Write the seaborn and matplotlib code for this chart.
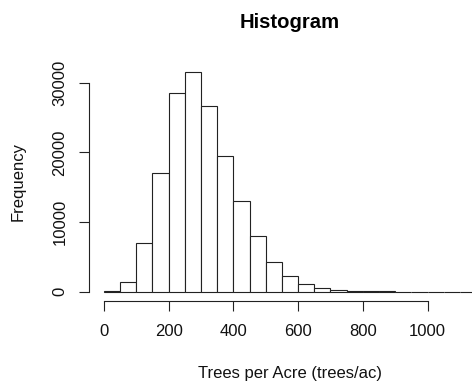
import numpy as np
import pandas as pd
import matplotlib
matplotlib.use("Agg")
import matplotlib.pyplot as plt
import seaborn as sns

# Bin edges (trees/ac) and counts per bin
bin_edges = list(range(0, 1200, 50))
counts = [100, 1380, 6970, 17020, 28490, 31560, 26690, 19450, 13000, 7980,
          4300, 2200, 1090, 520, 230, 100, 60, 40, 25, 15, 10, 5, 3]
x_ticks = [0, 200, 400, 600, 800, 1000]
y_ticks = [0, 10000, 20000, 30000]

mids = [(bin_edges[i] + bin_edges[i + 1]) / 2 for i in range(len(counts))]
df = pd.DataFrame({"tpa": mids, "n": counts})

sns.set_style("white")
plt.rcParams["font.family"] = ["Liberation Sans", "DejaVu Sans"]

fig = plt.figure(figsize=(4.72, 3.85), dpi=100)
# plot region extends slightly past the right edge (the reference is cropped)
ax = fig.add_axes([89 / 472, 1 - 300.5 / 385, 402 / 472, (300.5 - 63) / 385])

sns.histplot(data=df, x="tpa", weights="n", bins=bin_edges, ax=ax,
             color="white", edgecolor="#222222", linewidth=0.8, alpha=1)

ax.set_xlim(-46, 1196)
ax.set_ylim(-1262, 32822)

for s in ["top", "right"]:
    ax.spines[s].set_visible(False)
ax.spines["bottom"].set_bounds(0, 1000)
ax.spines["left"].set_bounds(0, 30000)
for s in ["bottom", "left"]:
    ax.spines[s].set_color("#222222")
    ax.spines[s].set_linewidth(0.8)

ax.set_xticks(x_ticks)
ax.set_yticks(y_ticks)
ax.set_yticklabels([str(v) for v in y_ticks], rotation=90, va="center")
ax.tick_params(axis="both", direction="out", length=7.5, width=0.8,
               color="#222222", labelsize=12, labelcolor="#111111",
               bottom=True, left=True)
ax.tick_params(axis="x", pad=9.5)
ax.tick_params(axis="y", pad=8)

ax.set_xlabel("Trees per Acre (trees/ac)", fontsize=12, color="#111111", labelpad=19.5)
ax.set_ylabel("Frequency", fontsize=12, color="#111111", labelpad=19)
ax.set_title("Histogram", fontsize=14.6, fontweight="bold", pad=25.5, color="black")

fig.savefig("out.png", dpi=100)
